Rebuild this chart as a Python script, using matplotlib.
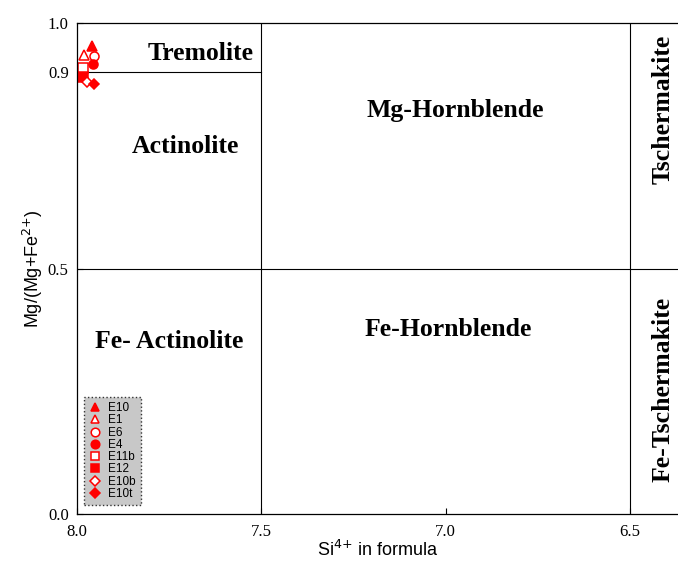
import matplotlib
matplotlib.use('Agg')
import matplotlib.pyplot as plt

# ---- data: amphibole analyses (Si apfu, Mg/(Mg+Fe2+)) ----
samples = ['E10', 'E1', 'E6', 'E4', 'E11b', 'E12', 'E10b', 'E10t']
si = [7.960, 7.981, 7.953, 7.957, 7.983, 7.983, 7.974, 7.953]
mg_ratio = [0.953, 0.934, 0.932, 0.916, 0.909, 0.891, 0.879, 0.876]
markers = ['^', '^', 'o', 'o', 's', 's', 'D', 'D']
filled = [True, False, False, True, False, True, False, True]

# field names and where they sit (Si, Mg#, rotation)
field_names = ['Tremolite', 'Actinolite', 'Mg-Hornblende', 'Tschermakite',
               'Fe- Actinolite', 'Fe-Hornblende', 'Fe-Tschermakite']
field_x = [7.666, 7.707, 6.975, 6.410, 7.750, 6.994, 6.410]
field_y = [0.939, 0.749, 0.822, 0.824, 0.351, 0.376, 0.253]
field_rot = [0, 0, 0, 90, 0, 0, 90]

serif = 'Liberation Serif'
sans = 'Liberation Sans'

fig = plt.figure(figsize=(6.78, 5.63), dpi=100)
ax = fig.add_axes([0.1136, 0.087, 0.8864, 0.872])

# field boundaries
lw = 0.8
ax.axvline(7.5, color='black', lw=lw)
ax.axvline(6.5, color='black', lw=lw)
ax.axhline(0.5, color='black', lw=lw)
ax.plot([8.0, 7.5], [0.9, 0.9], color='black', lw=lw)

for name, x, y, r in zip(field_names, field_x, field_y, field_rot):
    ax.text(x, y, name, ha='center', va='center', rotation=r,
            fontsize=18.5, fontweight='bold', family=serif)

for s, x, y, m, f in zip(samples, si, mg_ratio, markers, filled):
    ms = 6.5 if m != 'D' else 5.5
    ax.plot(x, y, linestyle='none', marker=m, markersize=ms,
            markeredgecolor='red', markerfacecolor='red' if f else 'white',
            markeredgewidth=1.1, label=s)

ax.set_xlim(8.0, 6.37)
ax.set_ylim(0.0, 1.0)
ax.set_xticks([8.0, 7.5, 7.0, 6.5])
ax.set_yticks([0.0, 0.5, 0.9, 1.0])
ax.set_xticklabels(['8.0', '7.5', '7.0', '6.5'], family=serif, fontsize=12)
ax.set_yticklabels(['0.0', '0.5', '0.9', '1.0'], family=serif, fontsize=12)
ax.tick_params(axis='x', direction='in', length=4, width=0.8, pad=7)
ax.tick_params(axis='y', direction='in', length=4, width=0.8, pad=6)
ax.spines['right'].set_visible(False)
for sp in ['left', 'bottom', 'top']:
    ax.spines[sp].set_linewidth(0.9)

ax.set_xlabel('Si$^{4{+}}$ in formula', family=sans, fontsize=13, labelpad=0)
ax.set_ylabel('Mg/(Mg+Fe$^{2{+}}$)', family=sans, fontsize=13, labelpad=2)

leg = ax.legend(loc='lower left', bbox_to_anchor=(0.0116, 0.018),
                borderaxespad=0,
                prop={'family': sans, 'size': 8.5}, frameon=True, fancybox=False,
                handlelength=1.0, handletextpad=0.6, labelspacing=0.02,
                borderpad=0.45, markerscale=0.95)
frame = leg.get_frame()
frame.set_facecolor('#c8c8c8')
frame.set_edgecolor('#333333')
frame.set_linestyle(':')
frame.set_linewidth(1.0)
frame.set_alpha(1.0)

fig.savefig('out.png', dpi=100)
